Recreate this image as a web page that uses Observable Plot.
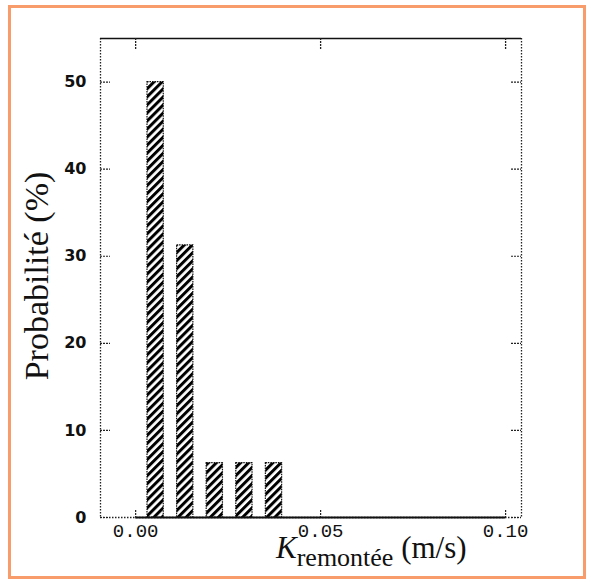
<!DOCTYPE html>
<html>
<head>
<meta charset="utf-8">
<script src="https://cdn.jsdelivr.net/npm/d3@7"></script>
<script src="https://cdn.jsdelivr.net/npm/@observablehq/plot@0.6"></script>
<style>
  html, body { margin: 0; padding: 0; background: #fff; }
  #wrap { position: relative; width: 590px; height: 583px; overflow: hidden; }
  #border { position: absolute; left: 8px; top: 5px; width: 572px; height: 568px;
            border: 3px solid #f89c6c; pointer-events: none; }
  #xlabel { position: absolute; left: 276px; top: 532px; font-family: "Liberation Serif", serif;
            font-size: 31px; line-height: 1; color: #111; white-space: nowrap; }
  #xlabel i { font-style: italic; }
  #xlabel .sub { font-size: 26px; position: relative; top: 8px; }
  #ylabel { position: absolute; left: 37px; top: 276px; transform: translate(-50%, -50%) rotate(-90deg);
            font-family: "Liberation Serif", serif; font-size: 34px; line-height: 1; color: #111; white-space: nowrap; }
</style>
</head>
<body>
<div id="wrap">
  <div id="chart"></div>
  <div id="border"></div>
  <div id="ylabel">Probabilité (%)</div>
  <div id="xlabel"><i>K</i><span class="sub">remontée</span> (m/s)</div>
</div>
<script>
// Data
const binCenters = [0.0054, 0.0134, 0.0214, 0.0294, 0.0374];
const probabilities = [50, 31.25, 6.25, 6.25, 6.25];
const binWidth = 0.0044;
const xTicks = [0, 0.05, 0.10];
const yTicks = [0, 10, 20, 30, 40, 50];
const xDomain = [-0.0095, 0.1043];
const yDomain = [0, 55];

const bars = binCenters.map((c, i) => ({x1: c - binWidth / 2, x2: c + binWidth / 2, y: probabilities[i]}));

const W = 590, H = 583, mL = 100, mR = 69, mT = 38, mB = 66;
const pw = W - mL - mR, ph = H - mT - mB;

const chart = Plot.plot({
  width: W, height: H,
  marginLeft: mL, marginRight: mR, marginTop: mT, marginBottom: mB,
  x: {domain: xDomain},
  y: {domain: yDomain},
  style: {background: "transparent", color: "#111"},
  marks: [
    Plot.rectY(bars, {x1: "x1", x2: "x2", y: "y", fill: "url(#hatch)", stroke: "#111", strokeWidth: 1.2, strokeDasharray: "1.5,1"}),
    // frame sides
    Plot.ruleX(xDomain, {stroke: "#222", strokeWidth: 1.3, strokeDasharray: "1.5,1.5"}),
    Plot.ruleY([yDomain[1]], {stroke: "#111", strokeWidth: 1.6}),
    Plot.ruleY([yDomain[0]], {stroke: "#222", strokeWidth: 1.3, strokeDasharray: "1.5,1.5"}),
    Plot.ruleY([yDomain[0]], {x1: xTicks[0], x2: xTicks[xTicks.length - 1], stroke: "#111", strokeWidth: 1.8}),
    // inward ticks
    Plot.ruleX(xTicks, {insetBottom: ph - 12, stroke: "#222", strokeWidth: 1.3, strokeDasharray: "2,1"}),
    Plot.ruleX(xTicks, {insetTop: ph - 7, stroke: "#222", strokeWidth: 1.2, strokeDasharray: "2,1"}),
    Plot.ruleY(yTicks, {insetRight: pw - 10, stroke: "#222", strokeWidth: 1.2, strokeDasharray: "2,1"}),
    Plot.ruleY(yTicks, {insetLeft: pw - 10, stroke: "#222", strokeWidth: 1.2, strokeDasharray: "2,1"}),
    // tick labels
    Plot.axisY({ticks: yTicks, tickSize: 0, tickPadding: 14, fontSize: 16, fontWeight: "bold",
                fontFamily: "DejaVu Sans", label: null}),
    Plot.axisX({ticks: xTicks, tickSize: 0, tickPadding: 6, tickFormat: d => d.toFixed(2),
                fontSize: 19, fontFamily: "Liberation Mono", label: null})
  ]
});

const svg = chart.tagName.toLowerCase() === "svg" ? chart : chart.querySelector("svg");
const ns = "http://www.w3.org/2000/svg";
const defs = document.createElementNS(ns, "defs");
defs.innerHTML = '<pattern id="hatch" patternUnits="userSpaceOnUse" width="5.7" height="5.7" patternTransform="rotate(45)">' +
  '<rect width="5.7" height="5.7" fill="#fff"/><rect x="0" y="0" width="3" height="5.7" fill="#000"/></pattern>';
svg.insertBefore(defs, svg.firstChild);
document.getElementById("chart").appendChild(chart);
</script>
</body>
</html>
